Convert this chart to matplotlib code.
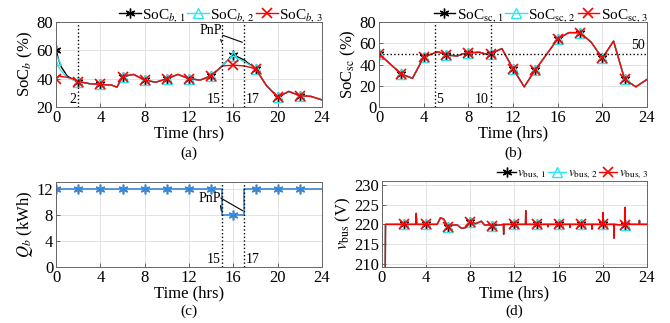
import matplotlib
matplotlib.use("Agg")
import matplotlib.pyplot as plt
import numpy as np

plt.rcParams['font.family'] = ['Liberation Serif', 'DejaVu Serif']
plt.rcParams['mathtext.fontset'] = 'stix'
plt.rcParams['font.size'] = 11

# (a) battery SoC
t_a = [0, 0.25, 0.5, 1, 1.5, 2, 3, 4, 5, 5.5, 6, 7, 8, 9, 10, 11, 12, 13, 14,
       15, 16, 17, 18, 19, 20, 21, 22, 23, 24]
soc_b1 = [60, 53, 48, 42, 39.5, 38, 36.5, 36, 35.5, 34, 41.5, 43, 39, 37.5, 40, 43, 40, 39, 42,
          49, 57, 53, 47, 35, 27, 31, 28, 27.5, 25]
soc_b2 = [53, 48, 45, 41, 39.3, 38, 36.5, 36, 35.5, 34, 41.5, 43, 39, 37.5, 40, 43, 40, 39, 42,
          49, 56, 52, 47, 35, 27, 31, 28, 27.5, 25]
soc_b3 = [40, 42, 41.5, 41, 40, 38, 36.5, 36, 35.5, 34, 41.5, 43, 39, 37.5, 40, 43, 40, 39, 42,
          49, 49.5, 49, 47, 35, 27, 31, 28, 27.5, 25]

# (b) supercapacitor SoC
t_b = [0, 2, 3, 4, 5, 5.3, 6, 7, 7.5, 8, 9, 9.5, 10, 11, 12, 13, 14, 16, 17, 18, 19, 20, 21,
       22, 23, 24]
soc_sc = [50, 31, 27, 47, 51, 52, 49, 48, 50, 51, 51.5, 50, 50, 55, 36, 19, 35, 64, 70, 70, 61,
          46, 62, 26, 19, 26]

# (c) battery capacity
t_c = [0, 2, 4, 6, 8, 10, 12, 14, 15, 15, 16, 17, 17, 18, 20, 22, 24]
q_b = [12, 12, 12, 12, 12, 12, 12, 12, 12, 8, 8, 8, 12, 12, 12, 12, 12]

# (d) bus voltage
t_d = [0, 0.3, 0.32, 2, 3.05, 3.1, 3.15, 4, 5, 5.3, 5.6, 5.8, 6, 6.4, 6.8, 7.2, 7.6, 8,
       8.5, 9, 9.3, 9.7, 10, 11, 11.02, 11.05, 12, 13, 13.02, 13.05, 14, 15, 15.02, 15.05,
       16, 17, 17.02, 17.05, 18, 19, 19.02, 19.05, 20, 20.02, 20.05, 21, 21.02, 21.05,
       22, 22.02, 22.05, 23.3, 23.32, 23.35, 24]
v_bus = [209, 209, 220, 220, 220, 222.8, 220, 220, 220, 221.7, 221.3, 220.3, 219.4,
         219.8, 219.9, 219, 219.2, 220.6, 220.2, 220.8, 219.8, 219.9, 219.6, 220, 217.5, 220,
         220, 220, 223.5, 220, 220, 220, 219.4, 220, 220, 220, 219.2, 220, 220, 220, 218.8,
         220, 220, 223, 220, 220, 216.5, 220, 219.8, 224.3, 220, 220, 221, 220, 220]

xticks = [0, 4, 8, 12, 16, 20, 24]
cyan = '#2ee6f0'
blue = '#3a87d4'


def marks(t):
    t = np.asarray(t)
    idx = [i for i in range(len(t)) if t[i] % 2 == 0 and t[i] <= 22
           and (i == 0 or t[i] != t[i - 1])]
    return idx


def three_lines(ax, t, y1, y2, y3, labels, skip_first=False):
    m = marks(t)
    if skip_first:
        m = [i for i in m if t[i] > 0]
    ax.plot(t, y1, color='k', lw=1, marker=(6, 2, 0), ms=7, mew=1, markevery=m, label=labels[0])
    ax.plot(t, y2, color=cyan, lw=1, marker='^', ms=7, mfc='none', mew=1, markevery=m,
            label=labels[1])
    ax.plot(t, y3, color='red', lw=1, marker='x', ms=7, mew=1.2, markevery=m, label=labels[2])


def style(ax, ylim, yticks, ylabel, letter, lab_y):
    ax.set_xlim(0, 24)
    ax.set_ylim(*ylim)
    ax.set_xticks(xticks)
    ax.set_yticks(yticks)
    ax.grid(True, color='#e3e3e3', lw=0.7)
    ax.set_axisbelow(True)
    ax.tick_params(direction='in', length=3, width=0.6, labelsize=12, pad=2,
                   color='0.3')
    for s in ax.spines.values():
        s.set_color('0.4')
        s.set_linewidth(0.7)
    ax.set_xlabel('Time (hrs)', fontsize=12, labelpad=0)
    ax.set_ylabel(ylabel, fontsize=12, labelpad=1)
    ax.text(0.5, lab_y, letter, transform=ax.transAxes, ha='center', va='top', fontsize=11)


def vline(ax, x, label, side, y):
    ax.axvline(x, color='k', ls=':', lw=1)
    if side == 'left':
        ax.text(x - 0.15, y, label, ha='right', va='bottom', fontsize=10)
    else:
        ax.text(x + 0.15, y, label, ha='left', va='bottom', fontsize=10)


fig = plt.figure(figsize=(6.7, 3.23), dpi=100)
ax_a = fig.add_axes([0.0836, 0.6687, 0.397, 0.2632])
ax_b = fig.add_axes([0.5657, 0.6687, 0.400, 0.2632])
ax_c = fig.add_axes([0.0836, 0.1734, 0.397, 0.2632])
ax_d = fig.add_axes([0.5701, 0.1734, 0.3955, 0.2663])

leg_kw = dict(loc='lower right', bbox_to_anchor=(1.01, 0.96), ncol=3, frameon=False,
              handlelength=1.4, handletextpad=0.1, columnspacing=0.1, borderaxespad=0,
              borderpad=0.1)

# (a)
three_lines(ax_a, t_a, soc_b1, soc_b2, soc_b3,
            [r'SoC$_{b,\,1}$', r'SoC$_{b,\,2}$', r'SoC$_{b,\,3}$'])
style(ax_a, (20, 80), [20, 40, 60, 80], r'SoC$_b$ (%)', '(a)', -0.46)
vline(ax_a, 2, '2', 'left', 20.5)
vline(ax_a, 15, '15', 'left', 20.5)
vline(ax_a, 17, '17', 'right', 20.5)
ax_a.text(14.0, 74, 'PnP', ha='center', va='center', fontsize=10)
ax_a.annotate('', xy=(15, 63.8), xytext=(14.8, 69.6),
              arrowprops=dict(arrowstyle='-', color='k', lw=0.8))
ax_a.annotate('', xy=(17.05, 65), xytext=(14.8, 71.3),
              arrowprops=dict(arrowstyle='-', color='k', lw=0.8))
ax_a.legend(fontsize=11, **leg_kw)

# (b)
three_lines(ax_b, t_b, soc_sc, soc_sc, soc_sc,
            [r'SoC$_{\mathrm{sc},\,1}$', r'SoC$_{\mathrm{sc},\,2}$', r'SoC$_{\mathrm{sc},\,3}$'])
style(ax_b, (0, 80), [0, 20, 40, 60, 80], r'SoC$_{\mathrm{sc}}$ (%)', '(b)', -0.46)
ax_b.axhline(50, color='k', ls=':', lw=1)
vline(ax_b, 5, '5', 'right', 0.5)
vline(ax_b, 10, '10', 'left', 0.5)
ax_b.text(23.8, 51.5, '50', ha='right', va='bottom', fontsize=10)
ax_b.legend(fontsize=11, **leg_kw)

# (c)
m_c = marks(t_c)
ax_c.plot(t_c, q_b, color=blue, lw=1.2, marker=(6, 2, 0), ms=7, mew=1.2, markevery=m_c)
style(ax_c, (0, 13), [0, 4, 8, 12], r'$Q_b$ (kWh)', '(c)', -0.44)
vline(ax_c, 15, '15', 'left', 0.1)
vline(ax_c, 17, '17', 'right', 0.1)
ax_c.text(13.9, 10.5, 'PnP', ha='center', va='center', fontsize=10)
ax_c.annotate('', xy=(14.95, 8.2), xytext=(14.8, 9.8),
              arrowprops=dict(arrowstyle='-', color='k', lw=0.8))
ax_c.annotate('', xy=(17.05, 8.4), xytext=(14.65, 10.75),
              arrowprops=dict(arrowstyle='-', color='k', lw=0.8))

# (d)
three_lines(ax_d, t_d, v_bus, v_bus, v_bus,
            [r'$v_{\mathrm{bus},\,1}$', r'$v_{\mathrm{bus},\,2}$', r'$v_{\mathrm{bus},\,3}$'],
            skip_first=True)
style(ax_d, (209.2, 231), [210, 215, 220, 225, 230], r'$v_{\mathrm{bus}}$ (V)', '(d)', -0.44)
leg_d = dict(leg_kw)
leg_d['bbox_to_anchor'] = (1.01, 0.98)
ax_d.legend(fontsize=9.5, **leg_d)

fig.savefig('out.png', dpi=100)
